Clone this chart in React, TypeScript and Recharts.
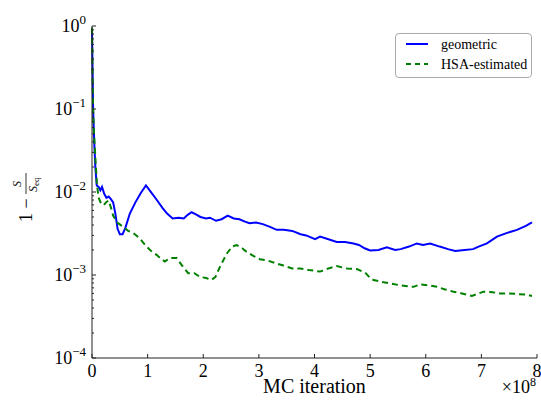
import { LineChart, Line, XAxis, YAxis, Legend } from "recharts";

// MC iteration in units of 1e8
const geoX = [
  0, 0.01, 0.02, 0.04, 0.06, 0.085, 0.12, 0.15, 0.18, 0.22, 0.26, 0.3, 0.34, 0.38, 0.42, 0.46, 0.5, 0.55,
  0.6, 0.68, 0.78, 0.88, 0.97, 1.05, 1.15, 1.27, 1.35, 1.45, 1.55, 1.65, 1.72, 1.79, 1.86, 1.95, 2.05,
  2.12, 2.23, 2.33, 2.44, 2.55, 2.65, 2.75, 2.83, 2.95, 3.07, 3.2, 3.32, 3.45, 3.6, 3.75, 3.85, 4.01,
  4.1, 4.25, 4.4, 4.55, 4.7, 4.8, 4.9, 5.0, 5.15, 5.3, 5.45, 5.55, 5.7, 5.84, 5.95, 6.08, 6.25, 6.4,
  6.53, 6.7, 6.85, 6.95, 7.1, 7.28, 7.45, 7.64, 7.8, 7.91,
];
const geometric = [
  0.95, 0.3, 0.1, 0.04, 0.02, 0.012, 0.0115, 0.0105, 0.0115, 0.0095, 0.0085, 0.0088, 0.0082, 0.0075,
  0.0055, 0.0036, 0.0031, 0.0031, 0.0037, 0.0055, 0.0075, 0.0098, 0.012, 0.0102, 0.0083, 0.0064, 0.0055,
  0.0048, 0.0049, 0.0048, 0.0053, 0.0057, 0.0054, 0.005, 0.0048, 0.0049, 0.0045, 0.0047, 0.0052, 0.0048,
  0.0047, 0.0044, 0.0042, 0.0043, 0.0041, 0.0038, 0.0035, 0.0035, 0.0034, 0.0031, 0.003, 0.0027, 0.0029,
  0.0027, 0.0025, 0.0025, 0.0024, 0.0023, 0.0021, 0.00198, 0.002, 0.00215, 0.002, 0.00205, 0.0022,
  0.0024, 0.0023, 0.0024, 0.0022, 0.00205, 0.00195, 0.002, 0.00205, 0.0022, 0.0024, 0.0029, 0.0032,
  0.0035, 0.0039, 0.0043,
];

const hsaX = [
  0, 0.01, 0.02, 0.03, 0.05, 0.07, 0.09, 0.12, 0.15, 0.18, 0.21, 0.25, 0.3, 0.34, 0.38, 0.45, 0.56, 0.65,
  0.74, 0.85, 0.98, 1.08, 1.16, 1.25, 1.31, 1.4, 1.52, 1.62, 1.73, 1.84, 1.94, 2.05, 2.15, 2.22, 2.3,
  2.42, 2.52, 2.6, 2.7, 2.78, 2.9, 3.02, 3.15, 3.28, 3.44, 3.6, 3.74, 3.9, 4.1, 4.25, 4.4, 4.58, 4.76,
  4.91, 5.0, 5.06, 5.2, 5.36, 5.55, 5.78, 5.9, 6.05, 6.2, 6.35, 6.5, 6.65, 6.83, 6.95, 7.04, 7.2, 7.34,
  7.5, 7.64, 7.8, 7.91,
];
const hsaEstimated = [
  0.95, 0.25, 0.1, 0.06, 0.035, 0.02, 0.012, 0.0085, 0.0076, 0.0072, 0.0069, 0.0075, 0.0079, 0.0065,
  0.0052, 0.0043, 0.0038, 0.0034, 0.0032, 0.0028, 0.0022, 0.0019, 0.00175, 0.00155, 0.00145, 0.0016,
  0.0016, 0.0013, 0.00105, 0.00105, 0.00095, 0.00092, 0.00087, 0.00095, 0.00125, 0.0018, 0.0022, 0.0023,
  0.0021, 0.0019, 0.0017, 0.00155, 0.0015, 0.0014, 0.0013, 0.0012, 0.0012, 0.00115, 0.0011, 0.0012,
  0.00128, 0.0012, 0.00118, 0.00107, 0.00092, 0.00087, 0.00083, 0.00079, 0.00075, 0.00072, 0.00077,
  0.00075, 0.00072, 0.00067, 0.00063, 0.0006, 0.00056, 0.0006, 0.00063, 0.00062, 0.0006, 0.0006,
  0.00059, 0.00058, 0.00056,
];

const xTicks = [0, 1, 2, 3, 4, 5, 6, 7, 8];
const yDecades = [-4, -3, -2, -1, 0];

const geoData = geoX.map((x, i) => ({ x, v: geometric[i] }));
const hsaData = hsaX.map((x, i) => ({ x, v: hsaEstimated[i] }));

const yTicks: number[] = [];
yDecades.forEach((d) => {
  yTicks.push(Math.pow(10, d));
  if (d < 0) for (let m = 2; m <= 9; m++) yTicks.push(m * Math.pow(10, d));
});

const SERIF = "'Liberation Serif', 'DejaVu Serif', serif";
const AXIS = "#222";

const isMajor = (v: number) => Math.abs(Math.log10(v) - Math.round(Math.log10(v))) < 1e-6;

const LeftTick = ({ x, y, payload }: any) => {
  const major = isMajor(payload.value);
  const exp = Math.round(Math.log10(payload.value));
  return (
    <g>
      <line x1={x} x2={x + (major ? 4 : 2)} y1={y} y2={y} stroke={AXIS} />
      {major && (
        <text x={x - 6} y={y + 6} textAnchor="end" fontFamily={SERIF} fontSize={18} fill="#000">
          <tspan>10</tspan>
          <tspan dy={-8} fontSize={13}>{exp < 0 ? `\u2212${-exp}` : `${exp}`}</tspan>
        </text>
      )}
    </g>
  );
};

const RightTick = ({ x, y, payload }: any) => (
  <line x1={x} x2={x - (isMajor(payload.value) ? 4 : 2)} y1={y} y2={y} stroke={AXIS} />
);

const BottomTick = ({ x, y, payload }: any) => (
  <g>
    <line x1={x} x2={x} y1={y} y2={y - 4} stroke={AXIS} />
    <text x={x} y={y + 19} textAnchor="middle" fontFamily={SERIF} fontSize={18} fill="#000">
      {payload.value}
    </text>
  </g>
);

const TopTick = ({ x, y }: any) => <line x1={x} x2={x} y1={y} y2={y + 4} stroke={AXIS} />;

const XLabel = ({ viewBox }: any) => {
  const { x, y, width } = viewBox;
  return (
    <g fontFamily={SERIF} fill="#000">
      <text x={x + width / 2} y={y + 35} textAnchor="middle" fontSize={20}>MC iteration</text>
      <text x={x + width - 1} y={y + 35} textAnchor="end" fontSize={18}>
        <tspan>×10</tspan>
        <tspan dy={-7} fontSize={12}>8</tspan>
      </text>
    </g>
  );
};

const YLabel = ({ viewBox }: any) => {
  const { x, y, height } = viewBox;
  return (
    <g transform={`translate(${x + 14},${y + height / 2 + 3}) rotate(-90)`} fontFamily={SERIF} fill="#000">
      <text x={-27} y={6} fontSize={18}>1 −</text>
      <line x1={1} x2={22} y1={0} y2={0} stroke="#000" strokeWidth={0.8} />
      <text x={11} y={-5} textAnchor="middle" fontSize={12} fontStyle="italic">S</text>
      <text x={3} y={11} fontSize={12} fontStyle="italic">
        S<tspan fontSize={9} fontStyle="normal" dy={2}>eq</tspan>
      </text>
    </g>
  );
};

const LegendBox = () => (
  <div
    style={{
      width: 135,
      height: 43,
      border: "1px solid #aaa",
      borderRadius: 4,
      background: "#fff",
      boxSizing: "content-box",
    }}
  >
    <svg width={135} height={43}>
      <line x1={10} x2={32} y1={10} y2={10} stroke="#0000ff" strokeWidth={2} />
      <line x1={10} x2={32} y1={30} y2={30} stroke="#008000" strokeWidth={2} strokeDasharray="5 4" />
      <text x={45} y={15} fontFamily={SERIF} fontSize={14} fill="#000">geometric</text>
      <text x={45} y={35} fontFamily={SERIF} fontSize={14} fill="#000">HSA-estimated</text>
    </svg>
  </div>
);

export default function App() {
  return (
    <div style={{ position: "absolute", left: 0, top: 0, width: 541, height: 401, background: "#fff" }}>
      <LineChart width={541} height={401} margin={{ top: 26, right: 4, bottom: 13, left: 12 }}>
        <XAxis
          xAxisId={0}
          type="number"
          dataKey="x"
          domain={[0, 8]}
          ticks={xTicks}
          interval={0}
          height={30}
          tickSize={0}
          tickMargin={0}
          tickLine={false}
          tick={<BottomTick />}
          axisLine={{ stroke: AXIS }}
          label={<XLabel />}
        />
        <XAxis
          xAxisId="top"
          orientation="top"
          type="number"
          domain={[0, 8]}
          ticks={xTicks}
          interval={0}
          height={0}
          tickSize={0}
          tickMargin={0}
          tickLine={false}
          tick={<TopTick />}
          axisLine={{ stroke: AXIS }}
        />
        <YAxis
          yAxisId={0}
          scale="log"
          type="number"
          domain={[1e-4, 1]}
          allowDataOverflow
          ticks={yTicks}
          interval={0}
          width={80}
          tickSize={0}
          tickMargin={0}
          tickLine={false}
          tick={<LeftTick />}
          axisLine={{ stroke: AXIS }}
          label={<YLabel />}
        />
        <YAxis
          yAxisId="right"
          orientation="right"
          scale="log"
          type="number"
          domain={[1e-4, 1]}
          allowDataOverflow
          ticks={yTicks}
          interval={0}
          width={0}
          tickSize={0}
          tickMargin={0}
          tickLine={false}
          tick={<RightTick />}
          axisLine={{ stroke: AXIS }}
        />
        <Legend
          layout="vertical"
          align="center"
          verticalAlign="middle"
          content={<LegendBox />}
          wrapperStyle={{ position: "absolute", left: 395, top: 33, width: 137, height: 45 }}
        />
        <Line
          data={geoData}
          dataKey="v"
          name="geometric"
          type="linear"
          stroke="#0000ff"
          strokeWidth={2}
          dot={false}
          isAnimationActive={false}
        />
        <Line
          data={hsaData}
          dataKey="v"
          name="HSA-estimated"
          type="linear"
          stroke="#008000"
          strokeWidth={2}
          strokeDasharray="6 4"
          dot={false}
          isAnimationActive={false}
        />
      </LineChart>
    </div>
  );
}
